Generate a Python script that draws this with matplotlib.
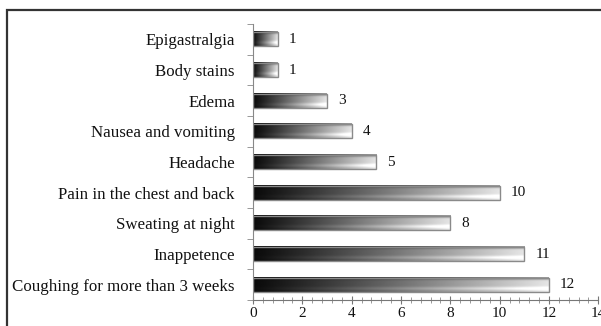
import numpy as np
import matplotlib
matplotlib.use("Agg")
import matplotlib.pyplot as plt
from matplotlib.patches import Rectangle
from matplotlib.ticker import MultipleLocator

# symptoms, bottom to top as drawn
symptoms = ["Coughing for more than 3 weeks", "Inappetence", "Sweating at night",
            "Pain in the chest and back", "Headache", "Nausea and vomiting",
            "Edema", "Body stains", "Epigastralgia"]
counts = [12, 11, 8, 10, 5, 4, 3, 1, 1]
x_ticks = [0, 2, 4, 6, 8, 10, 12, 14]

plt.rcParams['font.family'] = ['Liberation Serif', 'DejaVu Serif']

fig = plt.figure(figsize=(6.01, 3.26), dpi=100)
# outer frame, only top and left visible (rest is cropped)
fig.patches.append(Rectangle((7 / 601, -0.1), 1.2, 1 - 10 / 326 + 0.1, transform=fig.transFigure,
                             fill=False, edgecolor='#333333', linewidth=1.6))
ax = fig.add_axes([253 / 601, 26 / 326, 345.3 / 601, 276 / 326])

# gradient image: dark left to light right, with a highlight band near the bottom of the bar
nx, ny = 200, 20
tx = np.linspace(0, 1, nx)
base = 0.04 + 0.86 * tx ** 1.1
ty = np.linspace(0, 1, ny)[:, None]  # 0 = bottom row of image (origin lower)
shade = np.ones_like(ty)
shade = shade - 0.35 * np.exp(-((ty - 0.95) / 0.12) ** 2)   # dark top edge
shade = shade + 0.25 * np.exp(-((ty - 0.22) / 0.12) ** 2)   # light band near bottom
grad = np.clip(base[None, :] * shade, 0, 1)

h = 0.46
for i, v in enumerate(counts):
    ax.imshow(grad, cmap='gray', vmin=0, vmax=1, origin='lower', aspect='auto',
              extent=(0, v, i - h / 2, i + h / 2), interpolation='bilinear', zorder=2)
    ax.add_patch(Rectangle((0, i - h / 2), v, h, fill=False, edgecolor='#8a8a8a',
                           linewidth=1.0, zorder=3))
    ax.text(v + 0.45, i, str(v), va='center', ha='left', fontsize=11,
            color='#111111')

ax.set_xlim(0, 14)
ax.set_ylim(-0.5, len(symptoms) - 0.5)
ax.set_xticks(x_ticks)
ax.xaxis.set_minor_locator(MultipleLocator(0.4))
ax.set_yticks(range(len(symptoms)))
ax.set_yticklabels(symptoms, fontsize=12.2, color='#111111')
ax.set_yticks(np.arange(-0.5, len(symptoms)), minor=True)
ax.tick_params(axis='y', which='major', length=0, pad=13)
ax.tick_params(axis='y', which='minor', length=4, direction='out', color='#888888')
ax.tick_params(axis='x', which='major', length=6, direction='inout', color='#777777',
               labelsize=11, labelcolor='#111111', pad=2)
ax.tick_params(axis='x', which='minor', length=5, direction='inout', color='#888888')

for s in ['top', 'right']:
    ax.spines[s].set_visible(False)
ax.spines['left'].set_color('#888888')
ax.spines['bottom'].set_color('#777777')

fig.savefig("out.png", dpi=100)
